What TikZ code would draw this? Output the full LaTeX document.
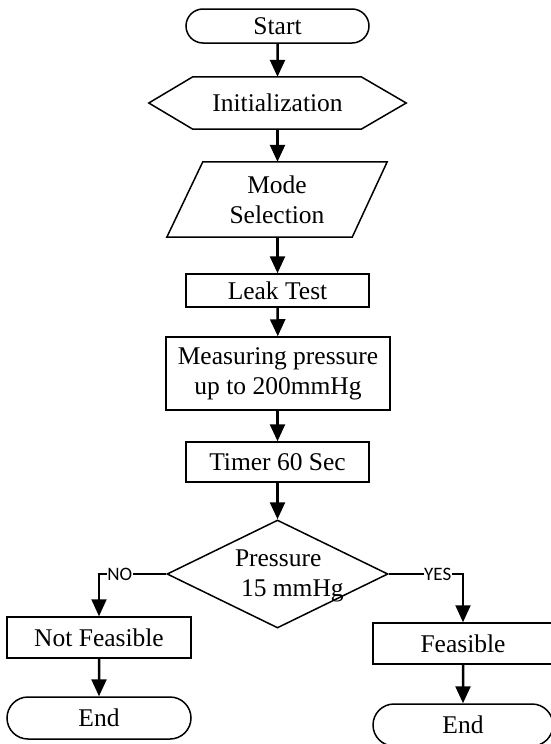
\documentclass[tikz,border=0pt]{standalone}
\usepackage{fontspec}
\setmainfont{Liberation Serif}
\newfontfamily\lblfont{Carlito}
\usetikzlibrary{arrows.meta,shapes.geometric,shapes.misc,calc}
\begin{document}
\begin{tikzpicture}[x=1pt,y=-1pt,
  every node/.style={font=\fontsize{25.5}{30}\selectfont},
  box/.style={draw,line width=1.5pt,rectangle,inner sep=0pt,align=center},
  term/.style={draw,line width=1.5pt,rounded rectangle,inner sep=0pt},
  ghost/.style={rectangle,inner sep=0pt,align=center},
  outline/.style={line width=1.5pt,line join=miter},
  flow/.style={line width=2.5pt,-{Triangle[width=15pt,length=17pt]}},
  lbl/.style={font=\lblfont\fontsize{19}{19}\selectfont,fill=white,inner sep=0.5pt}]
\useasboundingbox (0,0) rectangle (551,744);

% nodes
\node[term,minimum width=183pt,minimum height=34pt] (start) at (277.5,26) {Start};
\node[ghost,minimum width=257pt,minimum height=52pt] (init) at (277.5,103) {Initialization};
\draw[outline] (init.west) -- ($(init.north west)+(44,0)$) -- ($(init.north east)+(-45,0)$)
  -- (init.east) -- ($(init.south east)+(-45,0)$) -- ($(init.south west)+(44,0)$) -- cycle;
\node[ghost,minimum width=220pt,minimum height=75pt] (mode) at (277,199.5) {Mode\\Selection};
\draw[outline] ($(mode.north west)+(36,0)$) -- (mode.north east) -- ($(mode.south east)+(-35,0)$)
  -- (mode.south west) -- cycle;
\node[box,minimum width=183pt,minimum height=33pt] (leak) at (277.5,290.5) {Leak Test};
\node[box,minimum width=224pt,minimum height=73pt] (meas) at (278,373.5) {Measuring pressure\\up to 200mmHg};
\node[box,minimum width=183pt,minimum height=40pt] (timer) at (277.5,462) {Timer 60 Sec};
\node[draw,line width=1.5pt,diamond,inner sep=0pt,minimum width=221pt,minimum height=108pt] (dec) at (277.5,574) {};
\node[rectangle,inner sep=0pt,align=left,anchor=west] (dectext) at (234.8,576) {Pressure\\\hspace*{6pt}15 mmHg};
\node[box,minimum width=184pt,minimum height=41pt] (notf) at (99,637.5) {Not Feasible};
\node[term,minimum width=184pt,minimum height=42pt] (endl) at (99,718) {End};
\node[box,minimum width=180pt,minimum height=41pt] (feas) at (463,643.5) {Feasible};
\node[term,minimum width=180pt,minimum height=42pt] (endr) at (463,725) {End};

% connectors
\draw[flow] (start) -- (init);
\draw[flow] (init) -- (mode.north -| init.south);
\draw[flow] (mode.south -| leak.north) -- (leak);
\draw[flow] (leak) -- (meas);
\draw[flow] (meas.south -| timer.north) -- (timer);
\draw[flow] (timer) -- (dec);
\draw[flow,line width=2pt] (dec.west) -| node[lbl,pos=0.345] {NO} (notf.north);
\draw[flow,line width=2pt] (dec.east) -| node[lbl,pos=0.33] {YES} (feas.north);
\draw[flow] (notf) -- (endl);
\draw[flow] (feas) -- (endr);
\end{tikzpicture}
\end{document}
